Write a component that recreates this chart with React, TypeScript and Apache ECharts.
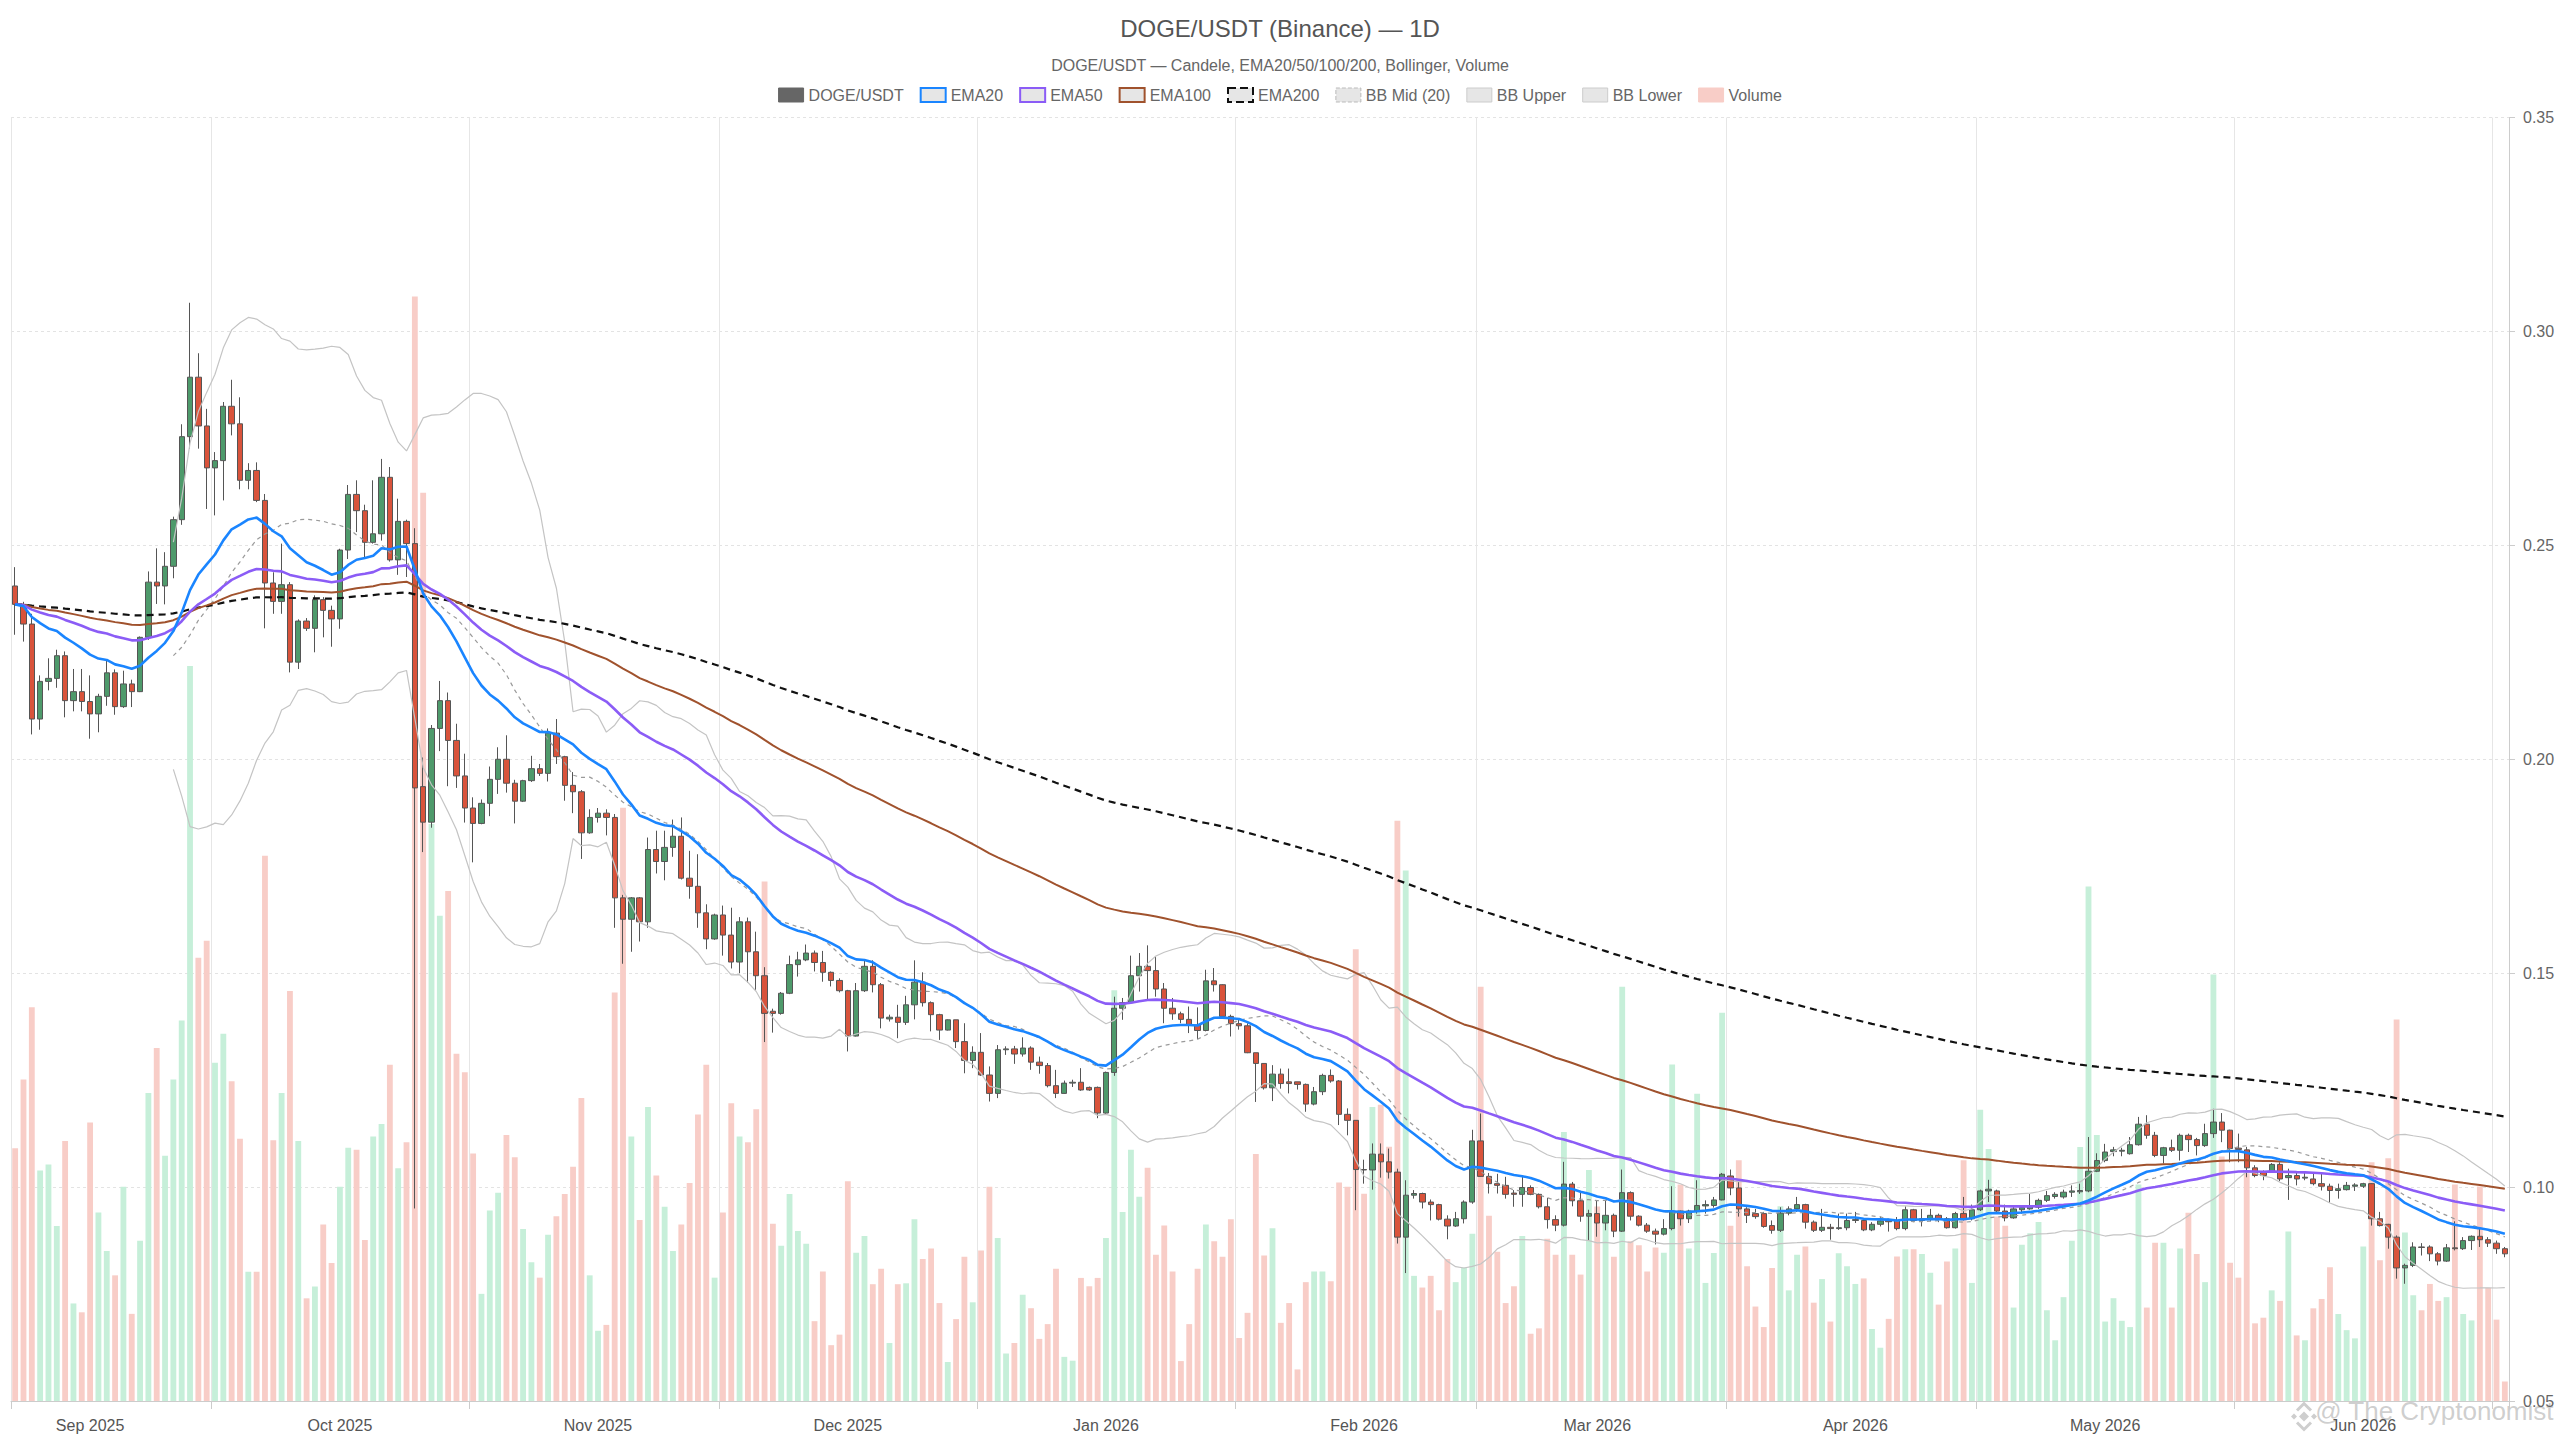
import React, { useEffect, useRef } from "react";
import * as echarts from "echarts";

// ---------------- DATA ----------------
const START_DATE = "2025-08-23";
const MONTHS = ["Jan", "Feb", "Mar", "Apr", "May", "Jun", "Jul", "Aug", "Sep", "Oct", "Nov", "Dec"];

const OPEN = [
  0.2405, 0.2362, 0.2316, 0.2094, 0.2182, 0.2189, 0.2242, 0.2137, 0.2158, 0.2135,
  0.2106, 0.2147, 0.2202, 0.2123, 0.2176, 0.2158, 0.2285, 0.2414, 0.2405, 0.2451,
  0.256, 0.2754, 0.2893, 0.2779, 0.2681, 0.2698, 0.2825, 0.2784, 0.2652, 0.2675,
  0.2605, 0.2412, 0.2369, 0.2408, 0.2227, 0.2323, 0.2306, 0.2373, 0.2348, 0.2328,
  0.2489, 0.2619, 0.2581, 0.2507, 0.2527, 0.2659, 0.2466, 0.2556, 0.2504, 0.1936,
  0.1853, 0.2072, 0.2137, 0.2044, 0.1961, 0.1886, 0.185, 0.1897, 0.1953, 0.2,
  0.1944, 0.1902, 0.195, 0.1978, 0.1967, 0.2061, 0.2006, 0.1939, 0.1924, 0.1828,
  0.1864, 0.1874, 0.1864, 0.1676, 0.1626, 0.1676, 0.162, 0.1789, 0.1761, 0.1794,
  0.182, 0.1722, 0.1703, 0.1641, 0.158, 0.1636, 0.1589, 0.1526, 0.162, 0.155,
  0.1494, 0.1411, 0.1406, 0.1453, 0.152, 0.1531, 0.1547, 0.1525, 0.1502, 0.1483,
  0.1459, 0.1353, 0.1459, 0.1516, 0.1473, 0.1393, 0.1397, 0.1385, 0.1426, 0.1479,
  0.1431, 0.1403, 0.1367, 0.1391, 0.134, 0.1296, 0.1315, 0.1262, 0.1219, 0.1321,
  0.1323, 0.1311, 0.1325, 0.1292, 0.1284, 0.1237, 0.1219, 0.1243, 0.1245, 0.1233,
  0.1233, 0.1173, 0.1268, 0.1418, 0.1431, 0.1494, 0.1516, 0.1506, 0.1463, 0.1418,
  0.1405, 0.1392, 0.1379, 0.1366, 0.1482, 0.1473, 0.1399, 0.1382, 0.1377, 0.1314,
  0.1289, 0.1232, 0.1264, 0.1246, 0.1246, 0.124, 0.1194, 0.1223, 0.1261, 0.1248,
  0.117, 0.1156, 0.1041, 0.104, 0.1077, 0.1059, 0.1035, 0.0883, 0.0981, 0.0985,
  0.0965, 0.0959, 0.0925, 0.0909, 0.0926, 0.0965, 0.1108, 0.1025, 0.1008, 0.1004,
  0.0986, 0.0983, 0.0999, 0.0983, 0.0954, 0.0924, 0.0911, 0.1007, 0.0968, 0.0932,
  0.0938, 0.0916, 0.0934, 0.0897, 0.0987, 0.0932, 0.0911, 0.0897, 0.089, 0.0903,
  0.0944, 0.0926, 0.0944, 0.0956, 0.0957, 0.097, 0.1026, 0.0998, 0.0949, 0.0938,
  0.0938, 0.091, 0.0899, 0.0939, 0.0949, 0.0959, 0.0918, 0.0899, 0.0906, 0.0903,
  0.0905, 0.0922, 0.0922, 0.09, 0.0913, 0.0922, 0.0921, 0.0903, 0.0947, 0.0922,
  0.0926, 0.0934, 0.0926, 0.0905, 0.0938, 0.0926, 0.0947, 0.0991, 0.0991, 0.0944,
  0.0928, 0.0947, 0.0949, 0.0953, 0.0969, 0.0978, 0.0977, 0.0988, 0.0989, 0.0991,
  0.1037, 0.1062, 0.1083, 0.1084, 0.1078, 0.1099, 0.1147, 0.1121, 0.1074, 0.1092,
  0.1086, 0.1121, 0.1111, 0.1097, 0.1125, 0.1152, 0.1133, 0.1091, 0.1087, 0.1045,
  0.1035, 0.1035, 0.1053, 0.1022, 0.1027, 0.1021, 0.1019, 0.1008, 0.1002, 0.0992,
  0.0994, 0.1002, 0.1002, 0.1008, 0.0926, 0.0913, 0.0883, 0.0811, 0.0817, 0.086,
  0.086, 0.0844, 0.0827, 0.0858, 0.0856, 0.0875, 0.0885, 0.0877, 0.0869, 0.0856,
];

const CLOSE = [
  0.2362, 0.2316, 0.2094, 0.2182, 0.2189, 0.2242, 0.2137, 0.2158, 0.2135, 0.2106,
  0.2147, 0.2202, 0.2123, 0.2176, 0.2158, 0.2285, 0.2414, 0.2405, 0.2451, 0.256,
  0.2754, 0.2893, 0.2779, 0.2681, 0.2698, 0.2825, 0.2784, 0.2652, 0.2675, 0.2605,
  0.2412, 0.2369, 0.2408, 0.2227, 0.2323, 0.2306, 0.2373, 0.2348, 0.2328, 0.2489,
  0.2619, 0.2581, 0.2507, 0.2527, 0.2659, 0.2466, 0.2556, 0.2504, 0.1933, 0.1853,
  0.2072, 0.2137, 0.2044, 0.1961, 0.1886, 0.185, 0.1897, 0.1953, 0.2, 0.1944,
  0.1902, 0.195, 0.1978, 0.1967, 0.2061, 0.2006, 0.1939, 0.1924, 0.1828, 0.1864,
  0.1874, 0.1864, 0.1676, 0.1626, 0.1676, 0.162, 0.1789, 0.1761, 0.1794, 0.182,
  0.1722, 0.1703, 0.1641, 0.158, 0.1636, 0.1589, 0.1526, 0.162, 0.155, 0.1494,
  0.1406, 0.1406, 0.1453, 0.152, 0.1531, 0.1547, 0.1525, 0.1502, 0.1483, 0.1459,
  0.1353, 0.1459, 0.1516, 0.1473, 0.1395, 0.1397, 0.1385, 0.1426, 0.1479, 0.1431,
  0.1403, 0.1367, 0.1391, 0.134, 0.1296, 0.1315, 0.1262, 0.1219, 0.1321, 0.1323,
  0.1311, 0.1325, 0.1292, 0.1284, 0.1237, 0.1219, 0.1243, 0.1245, 0.1227, 0.1227,
  0.1173, 0.1268, 0.1418, 0.1431, 0.1494, 0.1516, 0.1506, 0.1463, 0.1418, 0.1405,
  0.1392, 0.1379, 0.1366, 0.1482, 0.1473, 0.1399, 0.1382, 0.1377, 0.1314, 0.1289,
  0.1232, 0.1264, 0.1242, 0.1242, 0.124, 0.1194, 0.1223, 0.1261, 0.1248, 0.117,
  0.1156, 0.1041, 0.104, 0.1077, 0.1059, 0.1035, 0.0883, 0.0981, 0.0985, 0.0965,
  0.0959, 0.0925, 0.0909, 0.0926, 0.0965, 0.1108, 0.1025, 0.1008, 0.1004, 0.0983,
  0.0983, 0.0999, 0.0983, 0.0954, 0.0924, 0.0911, 0.1007, 0.0968, 0.0932, 0.0938,
  0.0916, 0.0934, 0.0897, 0.0987, 0.0932, 0.0911, 0.0897, 0.089, 0.0903, 0.0944,
  0.0926, 0.0944, 0.0957, 0.0959, 0.097, 0.103, 0.0998, 0.0949, 0.0934, 0.0931,
  0.0908, 0.0899, 0.0939, 0.0949, 0.0959, 0.0918, 0.0899, 0.0906, 0.0903, 0.0905,
  0.0922, 0.0924, 0.09, 0.0913, 0.0921, 0.0919, 0.0903, 0.0947, 0.0922, 0.0926,
  0.0934, 0.0926, 0.0905, 0.0938, 0.0926, 0.0947, 0.0991, 0.0995, 0.0944, 0.0928,
  0.0949, 0.0952, 0.0955, 0.0969, 0.098, 0.0983, 0.0988, 0.0991, 0.0992, 0.1037,
  0.1062, 0.1082, 0.1087, 0.1086, 0.1099, 0.1147, 0.1121, 0.1074, 0.1092, 0.1086,
  0.1121, 0.1111, 0.1097, 0.1125, 0.1152, 0.1133, 0.109, 0.1088, 0.1045, 0.1027,
  0.1027, 0.1053, 0.1019, 0.1027, 0.1019, 0.1023, 0.1008, 0.1002, 0.0992, 0.0996,
  0.1004, 0.1005, 0.1008, 0.0926, 0.091, 0.0883, 0.0811, 0.0817, 0.086, 0.0859,
  0.0844, 0.0827, 0.0858, 0.0856, 0.0875, 0.0885, 0.0877, 0.0869, 0.0856, 0.0844,
];

const LOW = [
  0.2291, 0.2275, 0.2058, 0.2069, 0.2161, 0.2167, 0.2098, 0.2112, 0.2112, 0.2048,
  0.2063, 0.2125, 0.2104, 0.212, 0.2122, 0.2157, 0.2279, 0.2363, 0.2362, 0.2423,
  0.2548, 0.2726, 0.2726, 0.2585, 0.257, 0.2605, 0.2757, 0.2631, 0.2631, 0.2601,
  0.2306, 0.234, 0.234, 0.2203, 0.2211, 0.23, 0.225, 0.2285, 0.2263, 0.2305,
  0.2468, 0.2531, 0.2468, 0.2504, 0.2511, 0.2462, 0.2431, 0.2426, 0.095, 0.1783,
  0.184, 0.2019, 0.1937, 0.1933, 0.1852, 0.1759, 0.1848, 0.1867, 0.1919, 0.1922,
  0.185, 0.19, 0.1947, 0.1961, 0.1948, 0.1989, 0.1903, 0.1874, 0.1767, 0.1826,
  0.1852, 0.1822, 0.1606, 0.1522, 0.155, 0.1574, 0.1606, 0.1733, 0.1717, 0.1772,
  0.1719, 0.1674, 0.1606, 0.1556, 0.1578, 0.1541, 0.1511, 0.15, 0.1478, 0.1461,
  0.1339, 0.1361, 0.1403, 0.1451, 0.1492, 0.1528, 0.1504, 0.148, 0.1469, 0.1455,
  0.1317, 0.1352, 0.1456, 0.1455, 0.1371, 0.1387, 0.1348, 0.1379, 0.1392, 0.1422,
  0.1364, 0.1344, 0.1366, 0.1325, 0.1266, 0.1278, 0.126, 0.12, 0.1208, 0.1309,
  0.1288, 0.1305, 0.1274, 0.1265, 0.1233, 0.1208, 0.1218, 0.1234, 0.1225, 0.1225,
  0.1161, 0.1171, 0.126, 0.1391, 0.143, 0.1457, 0.1438, 0.1445, 0.1383, 0.1391,
  0.1383, 0.136, 0.1346, 0.1364, 0.1457, 0.1397, 0.1352, 0.1368, 0.1313, 0.1199,
  0.1228, 0.1201, 0.123, 0.1219, 0.1228, 0.1176, 0.1191, 0.1215, 0.1244, 0.1145,
  0.1121, 0.0946, 0.1008, 0.0994, 0.1022, 0.102, 0.0868, 0.0799, 0.0973, 0.095,
  0.0922, 0.0922, 0.0878, 0.0907, 0.0915, 0.0961, 0.1024, 0.0985, 0.0985, 0.0973,
  0.0954, 0.0954, 0.0981, 0.095, 0.0903, 0.0897, 0.0908, 0.0955, 0.0919, 0.0876,
  0.0884, 0.0899, 0.0883, 0.0895, 0.0922, 0.0908, 0.0893, 0.0866, 0.0887, 0.0899,
  0.091, 0.0916, 0.0938, 0.0938, 0.0952, 0.0969, 0.0981, 0.0931, 0.0916, 0.0926,
  0.0905, 0.0891, 0.0895, 0.0934, 0.0942, 0.0903, 0.0895, 0.0895, 0.0877, 0.09,
  0.0899, 0.0916, 0.0897, 0.0897, 0.0908, 0.0896, 0.0899, 0.0899, 0.0918, 0.0908,
  0.092, 0.0918, 0.0903, 0.0903, 0.0922, 0.0922, 0.0944, 0.0965, 0.0938, 0.092,
  0.0926, 0.0938, 0.0947, 0.0949, 0.0965, 0.0973, 0.0973, 0.0977, 0.0984, 0.0988,
  0.1035, 0.1058, 0.1072, 0.1072, 0.1076, 0.1097, 0.1113, 0.107, 0.1055, 0.1082,
  0.1062, 0.1082, 0.1074, 0.1094, 0.1115, 0.1105, 0.1058, 0.1058, 0.1023, 0.1023,
  0.1016, 0.1033, 0.1014, 0.097, 0.1004, 0.1016, 0.1004, 0.0992, 0.0963, 0.0973,
  0.0992, 0.0991, 0.0998, 0.091, 0.0908, 0.0856, 0.0786, 0.0774, 0.0813, 0.084,
  0.0827, 0.0817, 0.0825, 0.0852, 0.0853, 0.0853, 0.086, 0.086, 0.0844, 0.0836,
];

const HIGH = [
  0.2449, 0.2368, 0.234, 0.2196, 0.2236, 0.2256, 0.2252, 0.2211, 0.2211, 0.2196,
  0.2153, 0.2231, 0.221, 0.2207, 0.2186, 0.2287, 0.2439, 0.2493, 0.2484, 0.2567,
  0.2783, 0.3067, 0.2949, 0.2819, 0.2718, 0.2835, 0.2887, 0.2846, 0.2692, 0.2694,
  0.262, 0.2437, 0.2504, 0.2414, 0.2327, 0.233, 0.2383, 0.2379, 0.2359, 0.2492,
  0.2641, 0.2652, 0.2595, 0.2652, 0.2702, 0.2683, 0.2609, 0.256, 0.254, 0.2004,
  0.208, 0.2183, 0.2156, 0.2083, 0.2013, 0.1911, 0.1906, 0.1983, 0.2028, 0.2056,
  0.1952, 0.1952, 0.2008, 0.1989, 0.2072, 0.2094, 0.2008, 0.197, 0.1928, 0.1883,
  0.1886, 0.1883, 0.1872, 0.1683, 0.1678, 0.1678, 0.1817, 0.1833, 0.1833, 0.1859,
  0.1864, 0.1786, 0.1778, 0.1661, 0.1639, 0.1658, 0.1653, 0.1631, 0.163, 0.1597,
  0.1514, 0.1417, 0.1456, 0.1541, 0.155, 0.1567, 0.1553, 0.1552, 0.1504, 0.1488,
  0.1461, 0.1477, 0.1531, 0.153, 0.1477, 0.1403, 0.1426, 0.1447, 0.153, 0.1502,
  0.1434, 0.1405, 0.1392, 0.1391, 0.1383, 0.1329, 0.136, 0.1282, 0.1332, 0.1329,
  0.133, 0.135, 0.1329, 0.1305, 0.129, 0.1274, 0.1249, 0.1251, 0.1278, 0.1235,
  0.1235, 0.127, 0.1445, 0.1442, 0.1541, 0.1547, 0.1565, 0.1539, 0.1477, 0.1442,
  0.141, 0.1422, 0.142, 0.1508, 0.1512, 0.1474, 0.1403, 0.1391, 0.1383, 0.1314,
  0.129, 0.1285, 0.1277, 0.1277, 0.1246, 0.1242, 0.1234, 0.1265, 0.1275, 0.125,
  0.1184, 0.1156, 0.1064, 0.1102, 0.1102, 0.109, 0.1043, 0.1016, 0.0993, 0.0987,
  0.0971, 0.0961, 0.0934, 0.0942, 0.0969, 0.1134, 0.1172, 0.1033, 0.1031, 0.1024,
  0.0993, 0.1024, 0.1004, 0.0985, 0.0975, 0.0934, 0.1059, 0.1012, 0.0991, 0.0947,
  0.0969, 0.097, 0.0938, 0.1041, 0.099, 0.0934, 0.0916, 0.0903, 0.0925, 0.1002,
  0.0945, 0.0947, 0.1016, 0.0969, 0.0977, 0.1033, 0.1041, 0.1012, 0.0953, 0.0949,
  0.0942, 0.0922, 0.0953, 0.0955, 0.0977, 0.0961, 0.0922, 0.0949, 0.0914, 0.0938,
  0.0938, 0.0942, 0.0924, 0.0918, 0.0931, 0.0926, 0.093, 0.0955, 0.0949, 0.0949,
  0.0949, 0.0938, 0.093, 0.0942, 0.0977, 0.0959, 0.0994, 0.1017, 0.0994, 0.0959,
  0.0957, 0.0957, 0.0984, 0.0973, 0.0991, 0.0988, 0.0994, 0.1004, 0.1008, 0.1117,
  0.1079, 0.1101, 0.1094, 0.1092, 0.1117, 0.1164, 0.1168, 0.1129, 0.1094, 0.1111,
  0.1125, 0.1125, 0.1115, 0.1148, 0.1183, 0.1173, 0.1134, 0.1125, 0.1094, 0.1051,
  0.1039, 0.1056, 0.1058, 0.1043, 0.1035, 0.1035, 0.1031, 0.1031, 0.1008, 0.1008,
  0.1012, 0.1009, 0.101, 0.1009, 0.0942, 0.0914, 0.0887, 0.0821, 0.0871, 0.0869,
  0.0864, 0.0848, 0.0867, 0.092, 0.0883, 0.0887, 0.0903, 0.0883, 0.0875, 0.086,
];

// daily volume, millions of DOGE
const VOLUME = [
  1969, 2504, 3068, 1796, 1842, 1364, 2026, 760, 691, 2170,
  1468, 1168, 979, 1669, 679, 1249, 2400, 2751, 1911, 2504,
  2964, 5727, 3454, 3586, 2636, 2861, 2492, 2043, 1007, 1007,
  4248, 2032, 2400, 3195, 2026, 800, 892, 1376, 1076, 1669,
  1974, 1957, 1255, 2061, 2159, 2619, 1813, 2015, 8605, 7077,
  4495, 3780, 3973, 2705, 2561, 1928, 835, 1485, 1623, 2072,
  1900, 1341, 1082, 961, 1295, 1439, 1612, 1825, 2360, 979,
  547, 593, 3183, 4622, 2061, 1410, 2291, 1756, 1514, 1168,
  1376, 1698, 2233, 2619, 961, 1468, 2320, 2061, 2015, 2274,
  4047, 1381, 1209, 1612, 1324, 1226, 622, 1008, 435, 517,
  1712, 1156, 1286, 910, 1031, 452, 910, 917, 1417, 1106,
  1188, 763, 304, 638, 1123, 769, 1172, 1669, 1270, 370,
  452, 828, 723, 484, 599, 1031, 344, 314, 959, 894,
  959, 1270, 3201, 1473, 1958, 1591, 1817, 1139, 1368, 1008,
  311, 599, 1031, 1375, 1244, 1123, 1417, 491, 687, 1925,
  1133, 1345, 609, 763, 246, 926, 1008, 1008, 933, 1702,
  1669, 3519, 1614, 2291, 2308, 1980, 4521, 4134, 975, 884,
  975, 707, 1106, 926, 1041, 1303, 3228, 1444, 1162, 763,
  894, 1286, 524, 566, 1264, 1139, 2095, 1139, 985, 1800,
  1516, 1434, 1123, 3228, 1244, 1214, 1008, 1195, 1156, 2622,
  1686, 1189, 2393, 920, 1154, 3024, 1365, 1876, 1049, 736,
  576, 1037, 1517, 862, 1140, 1204, 766, 950, 619, 1151,
  1049, 912, 955, 561, 415, 640, 1125, 1183, 1183, 1145,
  999, 751, 1087, 1189, 1876, 920, 2270, 1964, 1438, 1365,
  728, 1218, 1306, 1394, 707, 473, 809, 1248, 1978, 4009,
  2072, 619, 801, 625, 576, 1686, 728, 1233, 1233, 728,
  1189, 1467, 1145, 926, 3322, 1905, 1078, 961, 1774, 605,
  649, 862, 780, 1321, 511, 473, 722, 795, 1043, 678,
  552, 488, 1204, 1861, 1096, 1891, 2972, 1312, 824, 707,
  912, 780, 809, 1686, 678, 628, 1671, 882, 634, 152,
];

const Y_MIN = 0.05;
const Y_MAX = 0.35;
const Y_STEP = 0.05;
const VOLUME_AXIS_MAX = 10000;
const EMA_PERIODS = [20, 50, 100, 200];
const BB_PERIOD = 20;
const BB_MULT = 2;
// category boundaries where the vertical grid lines / ticks sit
const GRID_LINE_INDICES = [0, 24, 55, 85, 116, 147, 176, 206, 236, 267, 298];

// ---------------- STYLE ----------------
const C = {
  up: "#4e9a6b",
  down: "#d9533b",
  wick: "#555555",
  volUp: "#c6efd9",
  volDown: "#f8cdc7",
  ema20: "#1a85ff",
  ema50: "#8b5cf6",
  ema100: "#a0522d",
  ema200: "#111111",
  bbMid: "#9a9a9a",
  bbBand: "#c4c4c4",
  text: "#666666",
  axis: "#cccccc",
  grid: "#e6e6e6",
};
const FONT = "'Liberation Sans', Arial, Helvetica, sans-serif";
const WM = "rgba(165,165,165,0.55)";

// ---------------- helpers ----------------
function buildDates(start: string, n: number): string[] {
  const [y, m, d] = start.split("-").map(Number);
  const out: string[] = [];
  for (let i = 0; i < n; i++) {
    out.push(new Date(Date.UTC(y, m - 1, d + i)).toISOString().slice(0, 10));
  }
  return out;
}

function ema(values: number[], period: number): number[] {
  const k = 2 / (period + 1);
  const out: number[] = [];
  let prev = values[0];
  values.forEach((v, i) => {
    prev = i === 0 ? v : v * k + prev * (1 - k);
    out.push(prev);
  });
  return out;
}

function bollinger(values: number[], period: number, mult: number) {
  const mid: (number | null)[] = [];
  const up: (number | null)[] = [];
  const lo: (number | null)[] = [];
  for (let i = 0; i < values.length; i++) {
    if (i < period - 1) {
      mid.push(null);
      up.push(null);
      lo.push(null);
      continue;
    }
    const win = values.slice(i - period + 1, i + 1);
    const mean = win.reduce((a, b) => a + b, 0) / period;
    const variance = win.reduce((a, b) => a + (b - mean) * (b - mean), 0) / (period - 1);
    const sd = Math.sqrt(variance);
    mid.push(mean);
    up.push(mean + mult * sd);
    lo.push(mean - mult * sd);
  }
  return { mid, up, lo };
}

function lineSeries(name: string, data: (number | null)[], color: string, width: number, type: any = "solid", z = 3) {
  return {
    name,
    type: "line",
    data,
    showSymbol: false,
    symbol: "none",
    silent: true,
    z,
    lineStyle: { color, width, type },
    itemStyle: { color },
  };
}

export default function App() {
  const ref = useRef<HTMLDivElement | null>(null);

  useEffect(() => {
    if (!ref.current) return;
    const chart = echarts.init(ref.current, undefined, { renderer: "svg" });

    const dates = buildDates(START_DATE, CLOSE.length);
    const [e20, e50, e100, e200] = EMA_PERIODS.map((p) => ema(CLOSE, p));
    const bb = bollinger(CLOSE, BB_PERIOD, BB_MULT);
    const gridSet = new Set(GRID_LINE_INDICES);

    const candleData = OPEN.map((o, i) => [o, CLOSE[i], LOW[i], HIGH[i]]);
    const volumeData = VOLUME.map((v, i) => ({
      value: v,
      itemStyle: { color: CLOSE[i] >= OPEN[i] ? C.volUp : C.volDown },
    }));

    const legendBox = (border: string, width: number, type: string = "solid") => ({
      color: "#e6e6e6",
      borderColor: border,
      borderWidth: width,
      borderType: type,
    });

    const option: any = {
      animation: false,
      backgroundColor: "#ffffff",
      textStyle: { fontFamily: FONT },
      title: {
        text: "DOGE/USDT (Binance) — 1D",
        subtext: "DOGE/USDT — Candele, EMA20/50/100/200, Bollinger, Volume",
        left: "center",
        top: 16,
        padding: 0,
        itemGap: 17,
        textStyle: { fontSize: 24, fontWeight: "normal", color: "#555555", fontFamily: FONT },
        subtextStyle: { fontSize: 16, color: C.text, fontFamily: FONT },
      },
      legend: {
        top: 87,
        left: "center",
        padding: 0,
        icon: "rect",
        itemWidth: 25,
        itemHeight: 14,
        itemGap: 16,
        textStyle: { color: C.text, fontSize: 16, fontFamily: FONT },
        data: [
          { name: "DOGE/USDT", itemStyle: { color: "#666666", borderColor: "#666666", borderWidth: 1 } },
          { name: "EMA20", itemStyle: legendBox(C.ema20, 2) },
          { name: "EMA50", itemStyle: legendBox(C.ema50, 2) },
          { name: "EMA100", itemStyle: legendBox(C.ema100, 2) },
          { name: "EMA200", itemStyle: legendBox(C.ema200, 2, "dashed") },
          { name: "BB Mid (20)", itemStyle: legendBox("#bbbbbb", 1, "dashed") },
          { name: "BB Upper", itemStyle: legendBox("#cccccc", 1) },
          { name: "BB Lower", itemStyle: legendBox("#cccccc", 1) },
          { name: "Volume", itemStyle: { color: C.volDown, borderColor: C.volDown, borderWidth: 1 } },
        ],
      },
      grid: { left: 11, right: 51, top: 117.5, bottom: 39, containLabel: false },
      xAxis: [
        {
          type: "category",
          data: dates,
          boundaryGap: true,
          axisLine: { show: true, lineStyle: { color: C.axis } },
          axisTick: {
            show: true,
            length: 8,
            interval: (i: number) => gridSet.has(i),
            lineStyle: { color: C.axis },
          },
          axisLabel: {
            color: "#555555",
            fontSize: 16,
            margin: 16,
            fontFamily: FONT,
            interval: (_i: number, v: string) => v.endsWith("-01"),
            formatter: (v: string) => `${MONTHS[Number(v.slice(5, 7)) - 1]} ${v.slice(0, 4)}`,
          },
          splitLine: {
            show: true,
            interval: (i: number) => gridSet.has(i),
            lineStyle: { color: C.grid, width: 1 },
          },
        },
      ],
      yAxis: [
        {
          type: "value",
          position: "right",
          min: Y_MIN,
          max: Y_MAX,
          interval: Y_STEP,
          scale: false,
          axisLine: { show: true, lineStyle: { color: C.axis } },
          axisTick: { show: true, length: 6, lineStyle: { color: C.axis } },
          axisLabel: {
            color: C.text,
            fontSize: 16,
            margin: 14,
            fontFamily: FONT,
            formatter: (v: number) => v.toFixed(2),
          },
          splitLine: { show: true, lineStyle: { color: "#e3e3e3", type: [3, 3], width: 1 } },
        },
        {
          type: "value",
          min: 0,
          max: VOLUME_AXIS_MAX,
          show: false,
          splitLine: { show: false },
        },
      ],
      series: [
        {
          name: "Volume",
          type: "bar",
          xAxisIndex: 0,
          yAxisIndex: 1,
          data: volumeData,
          barWidth: "70%",
          silent: true,
          z: 1,
          itemStyle: { color: C.volDown },
        },
        {
          name: "DOGE/USDT",
          type: "candlestick",
          data: candleData,
          barWidth: "70%",
          silent: true,
          z: 2,
          itemStyle: {
            color: C.up,
            color0: C.down,
            borderColor: C.wick,
            borderColor0: C.wick,
            borderColorDoji: C.wick,
            borderWidth: 1,
          },
        },
        lineSeries("BB Upper", bb.up, C.bbBand, 1.2, "solid", 3),
        lineSeries("BB Lower", bb.lo, C.bbBand, 1.2, "solid", 3),
        lineSeries("BB Mid (20)", bb.mid, C.bbMid, 1.2, [4, 4], 3),
        lineSeries("EMA200", e200, C.ema200, 2.2, [7, 5], 4),
        lineSeries("EMA100", e100, C.ema100, 2, "solid", 4),
        lineSeries("EMA50", e50, C.ema50, 2.6, "solid", 4),
        lineSeries("EMA20", e20, C.ema20, 2.6, "solid", 4),
      ],
      graphic: [
        {
          type: "group",
          left: 2291,
          top: 1401,
          silent: true,
          children: [
            { type: "polygon", shape: { points: [[14, 9], [19, 14], [14, 19], [9, 14]] }, style: { fill: WM } },
            { type: "polygon", shape: { points: [[4, 11], [7, 14], [4, 17], [1, 14]] }, style: { fill: WM } },
            { type: "polygon", shape: { points: [[24, 11], [27, 14], [24, 17], [21, 14]] }, style: { fill: WM } },
            { type: "polyline", shape: { points: [[7, 8], [14, 1], [21, 8]] }, style: { stroke: WM, lineWidth: 3, fill: "none" } },
            { type: "polyline", shape: { points: [[7, 20], [14, 27], [21, 20]] }, style: { stroke: WM, lineWidth: 3, fill: "none" } },
          ],
        },
        {
          type: "text",
          right: 6,
          top: 1398,
          silent: true,
          style: {
            text: "@ The Cryptonomist",
            fontSize: 26,
            fontFamily: FONT,
            fill: WM,
          },
        },
      ],
    };

    chart.setOption(option);
    return () => chart.dispose();
  }, []);

  return (
    <div
      ref={ref}
      style={{ position: "absolute", left: 0, top: 0, width: "2560px", height: "1440px", background: "#fff" }}
    />
  );
}
